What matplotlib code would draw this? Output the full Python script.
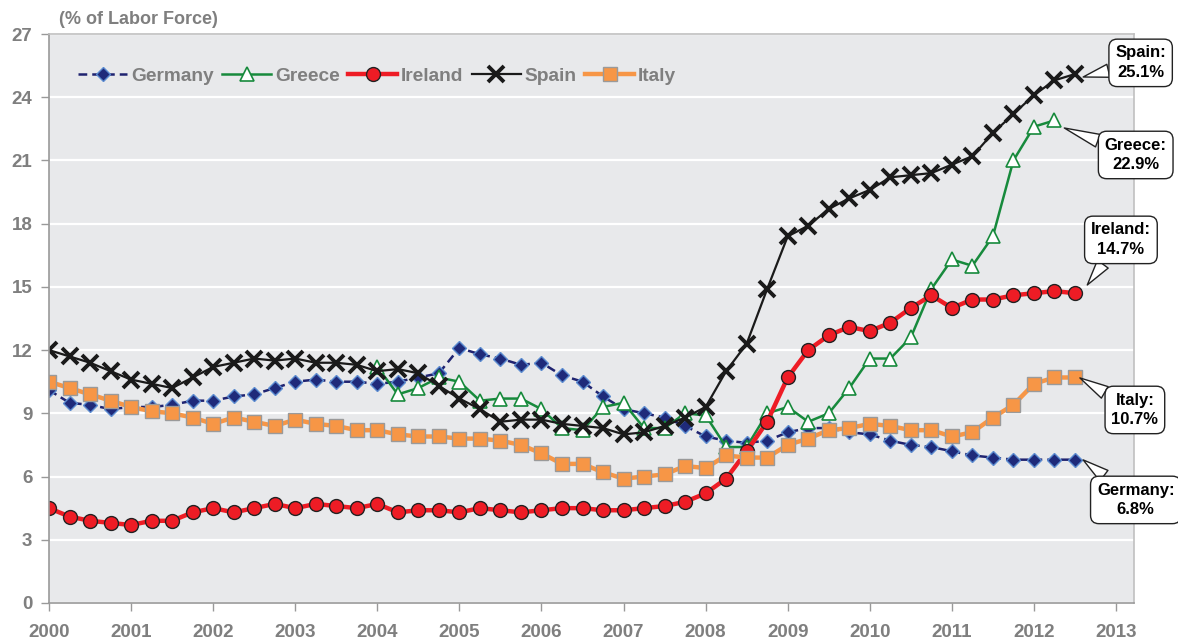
import matplotlib.pyplot as plt
import numpy as np

# Quarterly unemployment rate, % of labor force, 2000Q1 .. 2012Q3
quarters = 2000 + np.arange(51) * 0.25

germany = [10.1, 9.5, 9.4, 9.2, 9.3, 9.3, 9.4, 9.6, 9.6, 9.8, 9.9, 10.2,
           10.5, 10.6, 10.5, 10.5, 10.4, 10.5, 10.7, 10.9, 12.1, 11.8, 11.6, 11.3,
           11.4, 10.8, 10.5, 9.8, 9.2, 9.0, 8.8, 8.4, 7.9, 7.7, 7.6, 7.7,
           8.1, 8.3, 8.3, 8.1, 8.0, 7.7, 7.5, 7.4, 7.2, 7.0, 6.9, 6.8,
           6.8, 6.8, 6.8]
greece = [None] * 16 + [11.2, 9.9, 10.2, 10.7, 10.5, 9.6, 9.7, 9.7,
                        9.2, 8.3, 8.2, 9.3, 9.5, 8.3, 8.3, 9.0, 8.9, 7.4, 7.4, 9.0,
                        9.3, 8.6, 9.0, 10.2, 11.6, 11.6, 12.6, 14.9, 16.3, 16.0, 17.4, 21.0,
                        22.6, 22.9, None]
ireland = [4.5, 4.1, 3.9, 3.8, 3.7, 3.9, 3.9, 4.3, 4.5, 4.3, 4.5, 4.7,
           4.5, 4.7, 4.6, 4.5, 4.7, 4.3, 4.4, 4.4, 4.3, 4.5, 4.4, 4.3,
           4.4, 4.5, 4.5, 4.4, 4.4, 4.5, 4.6, 4.8, 5.2, 5.9, 7.2, 8.6,
           10.7, 12.0, 12.7, 13.1, 12.9, 13.3, 14.0, 14.6, 14.0, 14.4, 14.4, 14.6,
           14.7, 14.8, 14.7]
spain = [12.0, 11.7, 11.4, 11.0, 10.6, 10.4, 10.2, 10.7, 11.2, 11.4, 11.6, 11.5,
         11.6, 11.4, 11.4, 11.3, 11.0, 11.1, 10.9, 10.3, 9.7, 9.2, 8.6, 8.7,
         8.7, 8.5, 8.4, 8.3, 8.0, 8.1, 8.4, 8.8, 9.3, 11.0, 12.3, 14.9,
         17.4, 17.9, 18.7, 19.2, 19.6, 20.2, 20.3, 20.4, 20.8, 21.2, 22.3, 23.2,
         24.1, 24.8, 25.1]
italy = [10.5, 10.2, 9.9, 9.6, 9.3, 9.1, 9.0, 8.8, 8.5, 8.8, 8.6, 8.4,
         8.7, 8.5, 8.4, 8.2, 8.2, 8.0, 7.9, 7.9, 7.8, 7.8, 7.7, 7.5,
         7.1, 6.6, 6.6, 6.2, 5.9, 6.0, 6.1, 6.5, 6.4, 7.0, 6.9, 6.9,
         7.5, 7.8, 8.2, 8.3, 8.5, 8.4, 8.2, 8.2, 7.9, 8.1, 8.8, 9.4,
         10.4, 10.7, 10.7]

callouts = ["Spain:\n25.1%", "Greece:\n22.9%", "Ireland:\n14.7%",
            "Italy:\n10.7%", "Germany:\n6.8%"]

grey = "#7f7f7f"
plt.rcParams['font.family'] = ['Liberation Sans', 'DejaVu Sans']

fig = plt.figure(figsize=(11.78, 6.44), dpi=100)
ax = fig.add_axes([0.0416, 0.0637, 0.9211, 0.8835])
ax.set_facecolor("#e8e9eb")

def arr(v):
    return np.array([np.nan if a is None else a for a in v], dtype=float)

ax.plot(quarters, arr(germany), ls=(0, (3.5, 2)), color="#1f2370", lw=1.8,
        marker="D", ms=7, mfc="#1f2a7a", mec="#5b8bd0", mew=1, label="Germany")
ax.plot(quarters, arr(greece), color="#178a3c", lw=1.8,
        marker="^", ms=10, mfc="white", mec="#178a3c", mew=1.2, label="Greece")
ax.plot(quarters, arr(ireland), color="#ee1c25", lw=3.2,
        marker="o", ms=10, mfc="#ee1c25", mec="#222222", mew=1, label="Ireland")
ax.plot(quarters, arr(spain), color="#1a1a1a", lw=1.6,
        marker="x", ms=12, mew=2.8, label="Spain")
ax.plot(quarters, arr(italy), color="#f79646", lw=3.2,
        marker="s", ms=9.5, mfc="#f79646", mec="#9a9a9a", mew=1, label="Italy")

ax.set_xlim(2000, 2013.22)
ax.set_ylim(0, 27)
ax.set_yticks(np.arange(0, 28, 3))
ax.set_xticks(np.arange(2000, 2014))
ax.grid(axis="y", color="white", lw=1.6)
ax.set_axisbelow(True)
ax.tick_params(axis="both", colors="#999999", labelcolor=grey, labelsize=13.5,
               length=6, width=1)
for lab in ax.get_xticklabels() + ax.get_yticklabels():
    lab.set_fontweight("bold")
ax.tick_params(axis="x", pad=9)
ax.tick_params(axis="y", pad=6)
for side in ["left", "bottom"]:
    ax.spines[side].set_color("#999999")
    ax.spines[side].set_linewidth(1.2)
for side in ["top", "right"]:
    ax.spines[side].set_color("#c0c0c0")
    ax.spines[side].set_linewidth(1.2)

fig.text(59 / 1178, 1 - 19 / 644, "(% of Labor Force)", fontsize=13,
         fontweight="bold", color=grey, va="center", ha="left")

leg = ax.legend(loc="center left", bbox_to_anchor=(0.027, 0.926), ncol=5,
                frameon=False, handlelength=2.55, columnspacing=0.45,
                handletextpad=0.2, borderaxespad=0, borderpad=0,
                prop={"weight": "bold", "size": 13.8})
for t in leg.get_texts():
    t.set_color(grey)

# callout boxes (text centre, pointer tip)
box_pos = [(2013.30, 25.63), (2013.24, 21.26), (2013.06, 17.23),
           (2013.23, 9.16), (2013.24, 4.89)]
tips = [(2012.60, 24.96), (2012.37, 22.54), (2012.65, 15.09),
        (2012.56, 10.68), (2012.60, 6.79)]
for txt, (bx, by), (tx, ty) in zip(callouts, box_pos, tips):
    ax.annotate(txt, xy=(tx, ty), xytext=(bx, by), ha="center", va="center",
                fontsize=12, fontweight="bold", color="black",
                annotation_clip=False, linespacing=1.4,
                bbox=dict(boxstyle="round,pad=0.38,rounding_size=0.5",
                          fc="white", ec="#222222", lw=1),
                arrowprops=dict(arrowstyle="wedge,tail_width=0.8,shrink_factor=0.5",
                                fc="white", ec="#222222", lw=1,
                                shrinkA=0, shrinkB=0),
                zorder=10)

fig.savefig("out.png", dpi=100)
